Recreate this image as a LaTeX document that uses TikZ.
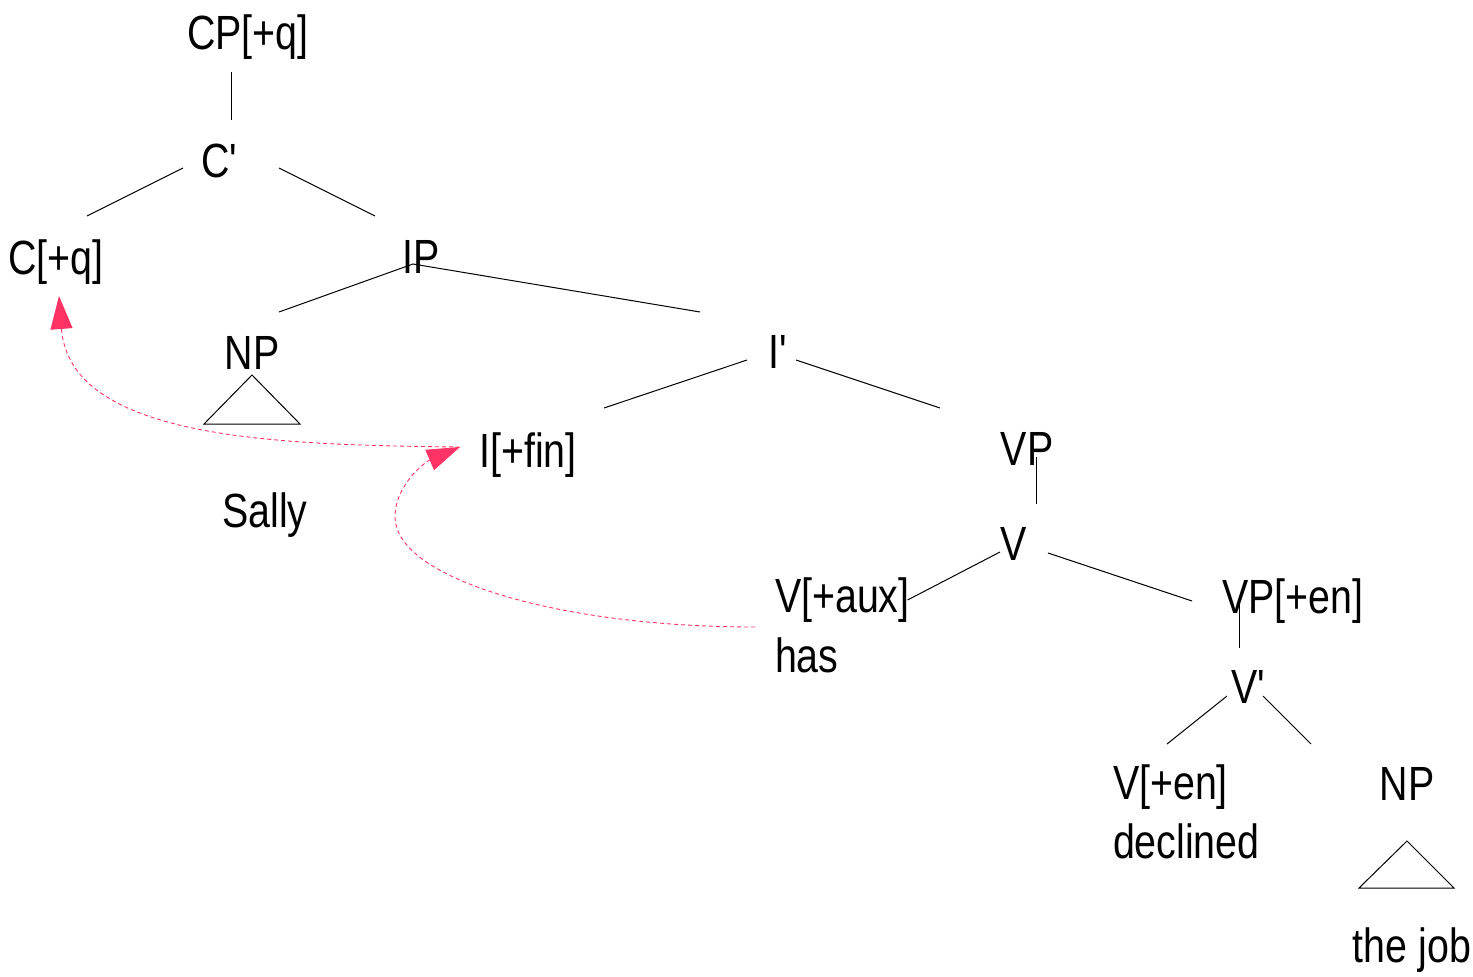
\documentclass[tikz,border=0pt]{standalone}
\usepackage{fontspec}
\setmainfont[FakeStretch=0.82]{Liberation Sans}
\usetikzlibrary{calc,arrows.meta}
\definecolor{movepink}{RGB}{255,51,102}
\newcommand{\barmark}{\textquotesingle}
\begin{document}
\begin{tikzpicture}[x=1pt,y=-1pt,
    cat/.style={inner sep=0pt,outer sep=0pt,anchor=base,font=\fontsize{48}{58}\selectfont},
    catl/.style={cat,anchor=base west},
    branch/.style={line width=1pt},
    move/.style={movepink,line width=.9pt,dash pattern=on 4pt off 3pt,-{Triangle[length=33pt,width=22pt]}}]
    \useasboundingbox(0,0)rectangle(1473,977);
    \node[cat](cp)at(248,49){CP[+q]};
    \node[cat](cbar)at(220,177){C\barmark};
    \node[cat](c)at(56,274){C[+q]};
    \node[cat](ip)at(421,273){IP};
    \node[cat](np1)at(252,369){NP};
    \node[cat](ibar)at(779,368){I\barmark};
    \node[cat](infl)at(528,467){I[+fin]};
    \node[cat](vp)at(1027,465){VP};
    \node[cat](sally)at(265,527){Sally};
    \node[cat](v)at(1014,560){V};
    \node[catl](vaux)at(775,612){V[+aux]};
    \node[catl](has)at(775,672){has};
    \node[cat](vpen)at(1293,613){VP[+en]};
    \node[cat](vbar)at(1249,703){V\barmark};
    \node[catl](ven)at(1113,799){V[+en]};
    \node[catl](declined)at(1113,858){declined};
    \node[cat](np2)at(1407,800){NP};
    \node[cat](thejob)at(1412,962){the job};

\draw[branch]($(cp.base)+(-17,23)$)--($(cbar.base)+(11,-57)$);
\draw[branch]($(cbar.base)+(-37,-9)$)--($(c.base)+(31,-58)$);
\draw[branch]($(cbar.base)+(59,-9)$)--($(ip.base)+(-46,-57)$);
\draw[branch]($(np1.base)+(27,-57)$)--($(ip.base)+(-8,-9)$)--($(ibar.base)+(-79,-56)$);
\draw[branch]($(ibar.base)+(-32,-8)$)--($(infl.base)+(76,-59)$);
\draw[branch]($(ibar.base)+(17,-8)$)--($(vp.base)+(-87,-57)$);
\draw[branch]($(np1.base)+(0,6)$)--++(-48,49)--++(96,0)--cycle;
\draw[branch]($(vp.base)+(9,-8)$)--($(v.base)+(22,-56)$);
\draw[branch]($(v.base)+(-14,-8)$)--($(vaux.base east)+(-2,-12)$);
\draw[branch]($(v.base)+(34,-7)$)--($(vpen.base)+(-101,-12)$);
\draw[branch]($(vpen.base)+(-54,-15)$)--($(vbar.base)+(-10,-55)$);
\draw[branch]($(vbar.base)+(-22,-7)$)--($(ven.base west)+(54,-55)$);
\draw[branch]($(vbar.base)+(14,-7)$)--($(np2.base)+(-96,-56)$);
\draw[branch]($(np2.base)+(0,41)$)--++(-48,47)--++(95,0)--cycle;

\draw[move]($(infl.base)+(-68,-20)$)..controls+(-180,-2)and+(11,144)..($(c.base)+(3,22)$);
\draw[move]($(vaux.base west)+(-20,15)$)..controls+(-198,0)and+(0,61)..($(vaux.base west)+(-380,-95)$)
    ..controls+(0,-32)and+(-35,15)..($(infl.base)+(-68,-20)$);
\end{tikzpicture}
\end{document}
